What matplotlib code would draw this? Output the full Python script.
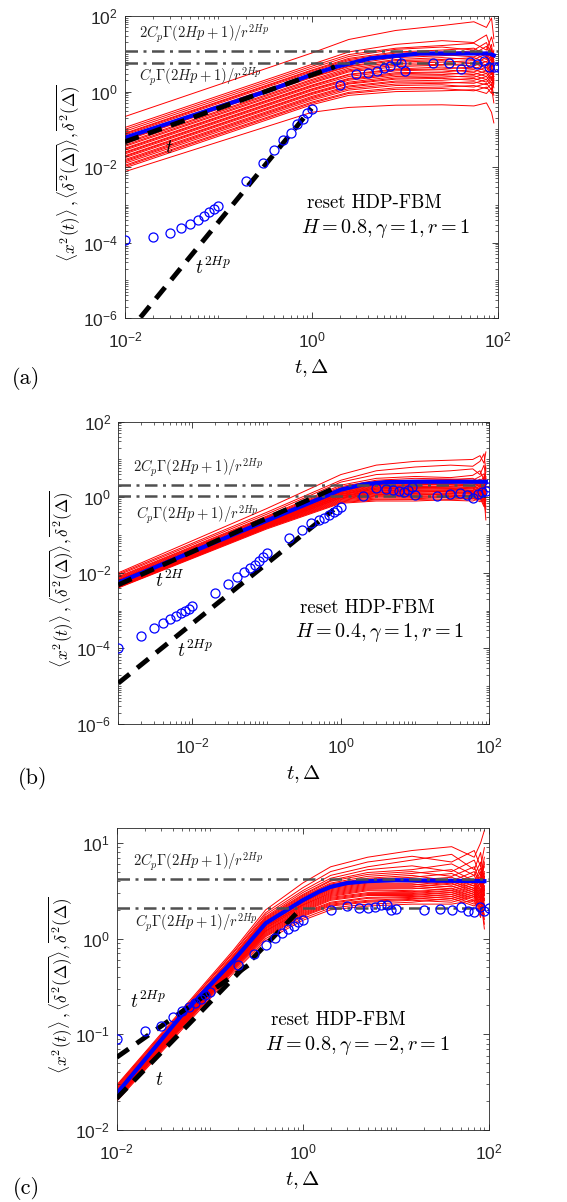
import numpy as np
import matplotlib
matplotlib.use('Agg')
import matplotlib.pyplot as plt
from matplotlib import ticker

plt.rcParams['font.family'] = 'Liberation Sans'
# tick labels use a sans mathtext, the annotations ask for 'cm' explicitly
plt.rcParams['mathtext.fontset'] = 'custom'
plt.rcParams['mathtext.rm'] = 'Liberation Sans'
plt.rcParams['mathtext.it'] = 'Liberation Sans:italic'
plt.rcParams['mathtext.bf'] = 'Liberation Sans:bold'
plt.rcParams['axes.linewidth'] = 0.6

# ---------------- data (log10 values) ----------------
# circle markers: time-averaged MSD of the ensemble
t_circ_a = [0.01, 0.02, 0.03, 0.04, 0.05, 0.06, 0.07, 0.08, 0.09, 0.1,
            0.2, 0.3, 0.4, 0.5, 0.6, 0.7, 0.8, 0.9, 1.0,
            2, 3, 4, 5, 6, 7, 8, 9, 10,
            20, 30, 40, 50, 60, 70, 80, 90, 100]
circ_a = [-3.94, -3.86, -3.74, -3.62, -3.50, -3.39, -3.29, -3.19, -3.11, -3.03,
          -2.37, -1.90, -1.56, -1.29, -1.09, -0.86, -0.72, -0.58, -0.45,
          0.18, 0.47, 0.50, 0.55, 0.63, 0.69, 0.84, 0.77, 0.55,
          0.77, 0.77, 0.60, 0.79, 0.73, 0.81, 0.66, 0.66, 0.66]

t_circ_b = [0.001, 0.002, 0.003, 0.004, 0.005, 0.006, 0.007, 0.008, 0.009, 0.01,
            0.02, 0.03, 0.04, 0.05, 0.06, 0.07, 0.08, 0.09, 0.1,
            0.2, 0.3, 0.4, 0.5, 0.6, 0.7, 0.8, 0.9, 1.0,
            2, 3, 4, 5, 6, 7, 8, 9, 10,
            20, 30, 40, 50, 60, 70, 80, 90, 100]
circ_b = [-4.00, -3.66, -3.45, -3.32, -3.22, -3.14, -3.07, -3.01, -2.95, -2.87,
          -2.54, -2.30, -2.10, -1.98, -1.88, -1.80, -1.70, -1.57, -1.48,
          -1.09, -0.87, -0.69, -0.60, -0.56, -0.47, -0.38, -0.34, -0.25,
          0.04, 0.24, 0.21, 0.19, 0.17, 0.13, 0.19, 0.26, 0.06,
          0.04, 0.09, 0.11, 0.06, -0.03, 0.09, 0.15, 0.17, 0.26]

t_circ_c = t_circ_a
circ_c = [-1.05, -0.97, -0.91, -0.82, -0.76, -0.71, -0.67, -0.63, -0.59, -0.56,
          -0.28, -0.16, -0.07, 0.01, 0.06, 0.10, 0.13, 0.17, 0.19,
          0.30, 0.34, 0.32, 0.32, 0.33, 0.35, 0.35, 0.30, 0.31,
          0.30, 0.31, 0.30, 0.33, 0.29, 0.28, 0.33, 0.29, 0.32]

# blue curves: ensemble MSD
t_msd_a = [0.01, 0.36, 1, 1.86, 4.3, 14.5, 80, 90]
msd_a = [-1.22, 0.04, 0.45, 0.66, 0.88, 1.01, 1.01, 0.96]
t_msd_b = [0.001, 0.1, 0.5, 1, 2, 4, 10, 90]
msd_b = [-2.26, -0.62, -0.05, 0.20, 0.34, 0.40, 0.41, 0.41]
t_msd_c = [0.01, 0.05, 0.18, 0.4, 1, 1.5, 2, 3, 5, 10, 90]
msd_c = [-1.62, -0.80, -0.23, 0.16, 0.40, 0.49, 0.54, 0.58, 0.60, 0.61, 0.60]

# red curves: single-trajectory TAMSDs, one row per trajectory
t_red_a = [0.01, 1, 2.5, 8, 25, 55, 75, 85, 90]
red_a = [
    [-0.66, 1.02, 1.38, 1.62, 1.75, 1.85, 1.70, 1.95, 1.40],
    [-0.95, 0.72, 1.05, 1.25, 1.35, 1.30, 1.50, 1.10, 0.90],
    [-1.00, 0.67, 0.98, 1.15, 1.22, 1.28, 1.10, 1.45, 1.20],
    [-1.05, 0.62, 0.93, 1.12, 1.18, 1.10, 1.30, 0.95, 1.05],
    [-1.10, 0.57, 0.88, 1.05, 1.10, 1.15, 0.95, 1.25, 0.70],
    [-1.12, 0.55, 0.85, 1.02, 1.05, 1.00, 1.20, 0.85, 1.10],
    [-1.15, 0.52, 0.82, 0.98, 1.02, 1.08, 0.92, 1.15, 0.60],
    [-1.20, 0.47, 0.78, 0.95, 0.98, 0.92, 1.05, 0.80, 0.95],
    [-1.25, 0.42, 0.72, 0.90, 0.95, 1.00, 0.85, 1.10, 0.80],
    [-1.28, 0.39, 0.68, 0.85, 0.90, 0.85, 1.00, 0.70, 1.00],
    [-1.30, 0.37, 0.66, 0.82, 0.85, 0.90, 0.78, 0.95, 0.50],
    [-1.35, 0.32, 0.62, 0.78, 0.82, 0.75, 0.90, 0.65, 0.85],
    [-1.38, 0.29, 0.58, 0.74, 0.78, 0.82, 0.70, 0.88, 0.75],
    [-1.42, 0.25, 0.55, 0.70, 0.72, 0.68, 0.80, 0.60, 0.40],
    [-1.45, 0.22, 0.52, 0.66, 0.70, 0.75, 0.62, 0.78, 0.90],
    [-1.50, 0.17, 0.46, 0.60, 0.65, 0.60, 0.72, 0.50, 0.65],
    [-1.52, 0.15, 0.44, 0.58, 0.60, 0.65, 0.55, 0.70, 0.30],
    [-1.55, 0.12, 0.40, 0.55, 0.58, 0.52, 0.65, 0.45, 0.60],
    [-1.60, 0.07, 0.35, 0.50, 0.52, 0.58, 0.48, 0.62, 0.80],
    [-1.62, 0.05, 0.33, 0.47, 0.50, 0.45, 0.55, 0.35, 0.45],
    [-1.65, 0.02, 0.30, 0.44, 0.45, 0.50, 0.40, 0.55, 0.20],
    [-1.70, -0.03, 0.25, 0.40, 0.42, 0.38, 0.48, 0.30, 0.55],
    [-1.72, -0.05, 0.22, 0.36, 0.38, 0.42, 0.32, 0.48, 0.65],
    [-1.75, -0.08, 0.20, 0.33, 0.35, 0.30, 0.40, 0.22, 0.35],
    [-1.80, -0.13, 0.15, 0.28, 0.30, 0.35, 0.25, 0.40, 0.10],
    [-1.83, -0.16, 0.12, 0.25, 0.25, 0.22, 0.32, 0.15, 0.40],
    [-1.86, -0.19, 0.08, 0.20, 0.22, 0.26, 0.18, 0.30, 0.50],
    [-1.90, -0.23, 0.04, 0.16, 0.18, 0.12, 0.22, 0.05, 0.25],
    [-1.95, -0.28, -0.02, 0.10, 0.12, 0.16, 0.08, 0.20, -0.10],
    [-1.98, -0.31, -0.05, 0.06, 0.08, 0.02, 0.12, -0.05, 0.30],
    [-2.02, -0.35, -0.10, 0.00, 0.02, 0.05, -0.05, 0.10, -0.30],
    [-2.12, -0.55, -0.42, -0.36, -0.35, -0.38, -0.30, -0.55, -0.83],
]

t_red_b = [0.001, 0.1, 1, 3, 10, 30, 60, 75, 85, 90]
red_b = [
    [-2.00, -0.30, 0.60, 0.85, 0.95, 0.98, 1.00, 1.10, 0.90, 1.20],
    [-2.03, -0.40, 0.45, 0.70, 0.80, 0.85, 0.82, 0.95, 1.15, 0.70],
    [-2.06, -0.45, 0.40, 0.60, 0.65, 0.70, 0.75, 0.60, 0.85, 0.50],
    [-2.10, -0.50, 0.32, 0.50, 0.55, 0.52, 0.58, 0.70, 0.45, 0.80],
    [-2.12, -0.52, 0.28, 0.45, 0.50, 0.48, 0.45, 0.55, 0.62, 0.35],
    [-2.14, -0.54, 0.25, 0.42, 0.45, 0.47, 0.50, 0.40, 0.55, 0.65],
    [-2.16, -0.56, 0.23, 0.40, 0.42, 0.40, 0.38, 0.48, 0.30, 0.50],
    [-2.18, -0.58, 0.21, 0.37, 0.40, 0.42, 0.45, 0.35, 0.50, 0.20],
    [-2.19, -0.60, 0.19, 0.35, 0.38, 0.36, 0.32, 0.42, 0.38, 0.55],
    [-2.20, -0.61, 0.17, 0.33, 0.36, 0.38, 0.40, 0.30, 0.45, 0.25],
    [-2.21, -0.62, 0.16, 0.31, 0.34, 0.33, 0.30, 0.38, 0.25, 0.45],
    [-2.22, -0.63, 0.14, 0.29, 0.32, 0.34, 0.36, 0.28, 0.40, 0.10],
    [-2.23, -0.64, 0.13, 0.27, 0.30, 0.28, 0.25, 0.35, 0.20, 0.38],
    [-2.24, -0.65, 0.12, 0.25, 0.28, 0.30, 0.32, 0.22, 0.35, 0.30],
    [-2.25, -0.66, 0.10, 0.24, 0.26, 0.25, 0.22, 0.30, 0.15, 0.42],
    [-2.26, -0.67, 0.09, 0.22, 0.25, 0.27, 0.28, 0.20, 0.32, 0.05],
    [-2.27, -0.68, 0.08, 0.21, 0.23, 0.22, 0.18, 0.26, 0.10, 0.28],
    [-2.28, -0.69, 0.07, 0.19, 0.21, 0.23, 0.25, 0.15, 0.28, 0.35],
    [-2.29, -0.70, 0.05, 0.17, 0.19, 0.18, 0.15, 0.22, 0.05, 0.15],
    [-2.30, -0.71, 0.04, 0.16, 0.18, 0.20, 0.22, 0.12, 0.25, -0.10],
    [-2.31, -0.72, 0.03, 0.14, 0.16, 0.15, 0.12, 0.18, 0.00, 0.22],
    [-2.32, -0.73, 0.02, 0.12, 0.14, 0.16, 0.18, 0.08, 0.20, 0.12],
    [-2.33, -0.74, 0.00, 0.11, 0.12, 0.10, 0.08, 0.15, -0.05, 0.30],
    [-2.34, -0.75, -0.01, 0.09, 0.10, 0.12, 0.14, 0.05, 0.18, -0.25],
    [-2.35, -0.76, -0.02, 0.07, 0.08, 0.06, 0.04, 0.10, -0.10, 0.08],
    [-2.36, -0.77, -0.04, 0.05, 0.06, 0.08, 0.10, 0.00, 0.12, 0.18],
    [-2.36, -0.78, -0.06, 0.03, 0.04, 0.02, 0.00, 0.06, -0.15, -0.40],
    [-2.37, -0.79, -0.08, 0.01, 0.02, 0.04, 0.06, -0.04, 0.05, 0.10],
    [-2.38, -0.80, -0.10, -0.02, -0.01, -0.02, -0.05, 0.02, -0.20, -0.05],
    [-2.38, -0.81, -0.12, -0.05, -0.04, 0.00, 0.02, -0.08, 0.00, -0.60],
    [-2.39, -0.82, -0.14, -0.07, -0.06, -0.08, -0.10, -0.02, -0.25, 0.00],
    [-2.40, -0.84, -0.16, -0.10, -0.10, -0.06, -0.03, -0.12, -0.05, -0.30],
]

t_red_c = [0.01, 0.18, 0.4, 1, 2, 5, 15, 40, 70, 82, 90]
red_c = [
    [-1.53, -0.12, 0.30, 0.58, 0.75, 0.85, 0.92, 0.96, 0.85, 1.00, 1.13],
    [-1.54, -0.14, 0.27, 0.53, 0.70, 0.80, 0.86, 0.80, 0.92, 0.75, 0.95],
    [-1.55, -0.15, 0.25, 0.50, 0.66, 0.75, 0.82, 0.88, 0.72, 0.90, 0.60],
    [-1.56, -0.17, 0.23, 0.48, 0.63, 0.72, 0.76, 0.70, 0.82, 0.65, 0.85],
    [-1.57, -0.18, 0.22, 0.46, 0.61, 0.69, 0.72, 0.78, 0.66, 0.80, 0.50],
    [-1.58, -0.19, 0.21, 0.45, 0.60, 0.67, 0.70, 0.65, 0.75, 0.58, 0.78],
    [-1.59, -0.20, 0.20, 0.44, 0.58, 0.65, 0.68, 0.72, 0.60, 0.74, 0.45],
    [-1.60, -0.21, 0.19, 0.43, 0.57, 0.63, 0.66, 0.60, 0.70, 0.55, 0.70],
    [-1.60, -0.22, 0.18, 0.42, 0.56, 0.62, 0.64, 0.68, 0.58, 0.70, 0.40],
    [-1.61, -0.22, 0.17, 0.41, 0.55, 0.61, 0.62, 0.58, 0.66, 0.50, 0.65],
    [-1.61, -0.23, 0.17, 0.40, 0.54, 0.60, 0.61, 0.64, 0.55, 0.66, 0.75],
    [-1.62, -0.23, 0.16, 0.39, 0.53, 0.59, 0.60, 0.56, 0.62, 0.48, 0.55],
    [-1.62, -0.24, 0.15, 0.38, 0.52, 0.58, 0.58, 0.62, 0.52, 0.64, 0.35],
    [-1.63, -0.24, 0.15, 0.38, 0.51, 0.57, 0.57, 0.54, 0.60, 0.45, 0.62],
    [-1.63, -0.25, 0.14, 0.37, 0.50, 0.56, 0.56, 0.60, 0.50, 0.60, 0.80],
    [-1.63, -0.25, 0.13, 0.36, 0.49, 0.55, 0.55, 0.52, 0.58, 0.42, 0.50],
    [-1.64, -0.26, 0.13, 0.35, 0.48, 0.54, 0.54, 0.58, 0.48, 0.58, 0.30],
    [-1.64, -0.26, 0.12, 0.35, 0.47, 0.53, 0.53, 0.50, 0.56, 0.40, 0.68],
    [-1.64, -0.27, 0.11, 0.34, 0.46, 0.52, 0.52, 0.55, 0.46, 0.55, 0.45],
    [-1.65, -0.27, 0.11, 0.33, 0.45, 0.51, 0.50, 0.48, 0.54, 0.38, 0.25],
    [-1.65, -0.28, 0.10, 0.32, 0.44, 0.50, 0.49, 0.52, 0.44, 0.52, 0.58],
    [-1.65, -0.28, 0.09, 0.31, 0.43, 0.48, 0.48, 0.46, 0.52, 0.35, 0.40],
    [-1.66, -0.29, 0.08, 0.30, 0.42, 0.47, 0.47, 0.50, 0.42, 0.50, 0.20],
    [-1.66, -0.29, 0.08, 0.29, 0.41, 0.46, 0.46, 0.44, 0.50, 0.32, 0.52],
    [-1.66, -0.30, 0.07, 0.28, 0.40, 0.45, 0.45, 0.48, 0.40, 0.48, 0.65],
    [-1.67, -0.30, 0.06, 0.27, 0.38, 0.43, 0.44, 0.42, 0.48, 0.30, 0.36],
    [-1.67, -0.31, 0.05, 0.26, 0.37, 0.42, 0.43, 0.46, 0.38, 0.45, 0.15],
    [-1.67, -0.31, 0.04, 0.25, 0.36, 0.40, 0.42, 0.40, 0.46, 0.28, 0.48],
    [-1.68, -0.32, 0.03, 0.24, 0.35, 0.39, 0.41, 0.44, 0.36, 0.42, 0.10],
    [-1.68, -0.33, 0.02, 0.23, 0.34, 0.38, 0.40, 0.38, 0.44, 0.25, 0.42],
    [-1.69, -0.34, 0.00, 0.21, 0.32, 0.36, 0.38, 0.42, 0.34, 0.40, 0.30],
    [-1.70, -0.36, -0.02, 0.19, 0.30, 0.34, 0.36, 0.36, 0.40, 0.22, 0.55],
]

# black dashed guide lines: (t_start, t_end), (value_start, value_end)
guide1_a = ([0.01, 1.78], [0.047, 4.57])       # t
guide2_a = ([0.01, 1.0], [3.3e-7, 0.36])       # t^{2Hp}
guide1_b = ([0.001, 0.9], [4.8e-3, 1.9])       # t^{2H}
guide2_b = ([0.001, 0.8], [1.2e-5, 0.47])      # t^{2Hp}
guide1_c = ([0.01, 0.85], [0.0214, 1.82])      # t
guide2_c = ([0.01, 0.3], [0.0575, 0.58])       # t^{2Hp}

# plateau levels 2C_p.../r^{2Hp} and C_p.../r^{2Hp}
plateau_a = [11.6, 5.8]
plateau_b = [2.1, 1.05]
plateau_c = [4.2, 2.1]

params_a = r'$H=0.8,\gamma=1,r=1$'
params_b = r'$H=0.4,\gamma=1,r=1$'
params_c = r'$H=0.8,\gamma=-2,r=1$'

ylab = r'$\langle x^2(t)\rangle\,,\langle\overline{\delta^2(\Delta)}\rangle,\overline{\delta^2(\Delta)}$'
txt_2c = r'$2C_p\Gamma(2Hp+1)/r^{2Hp}$'
txt_1c = r'$C_p\Gamma(2Hp+1)/r^{2Hp}$'


def draw_panel(ax, t_red, red, t_msd, msd, t_circ, circ, g1, g2, plateau,
               xlim, ylim, xticks, yticks):
    for row in red:
        ax.plot(t_red, 10 ** np.array(row), color='red', lw=0.7, zorder=1)
    ax.plot(t_msd, 10 ** np.array(msd), color='blue', lw=3, zorder=2)
    for lev in plateau:
        ax.axhline(lev, color='#505050', lw=1.8, dashes=(5, 2.2, 1.2, 2.2), zorder=3)
    for g in (g1, g2):
        ax.plot(g[0], g[1], color='black', lw=3.5, dashes=(3.0, 2.0), zorder=4)
    ax.plot(t_circ, 10 ** np.array(circ), 'o', mfc='none', mec='blue',
            ms=6.5, mew=0.9, zorder=5)

    ax.set_xscale('log')
    ax.set_yscale('log')
    ax.set_xlim(xlim)
    ax.set_ylim(ylim)
    ax.xaxis.set_major_locator(ticker.FixedLocator(xticks))
    ax.yaxis.set_major_locator(ticker.FixedLocator(yticks))
    ax.xaxis.set_minor_locator(ticker.LogLocator(base=10, subs=np.arange(1, 10), numticks=100))
    ax.yaxis.set_minor_locator(ticker.LogLocator(base=10, subs=np.arange(1, 10), numticks=100))
    ax.xaxis.set_minor_formatter(ticker.NullFormatter())
    ax.yaxis.set_minor_formatter(ticker.NullFormatter())
    ax.tick_params(which='both', direction='in', top=True, right=True,
                   color='#262626', labelcolor='#262626', labelsize=12.5)
    ax.tick_params(which='major', length=4, width=0.6)
    ax.tick_params(which='minor', length=2, width=0.5)
    ax.tick_params(axis='x', which='major', pad=9)
    ax.tick_params(axis='y', which='major', pad=5)
    for s in ax.spines.values():
        s.set_color('#262626')

    ax.set_xlabel(r'$t,\Delta$', fontsize=15, va='center', math_fontfamily='cm')
    ax.xaxis.set_label_coords(0.5, -0.165)
    ax.set_ylabel(ylab, fontsize=12.3, va='center', math_fontfamily='cm')
    ax.yaxis.set_label_coords(-0.153, 0.48)


def annotate(ax, x, y, s, size, **kw):
    ax.text(x, y, s, transform=ax.transAxes, fontsize=size, va='center',
            math_fontfamily='cm', **kw)


fig = plt.figure(figsize=(5.67, 12.02), dpi=100)
ax_a = fig.add_axes([0.2205, 0.7354, 0.658, 0.2512])
ax_b = fig.add_axes([0.2086, 0.3977, 0.6543, 0.2515])
ax_c = fig.add_axes([0.2058, 0.0599, 0.656, 0.2515])

draw_panel(ax_a, t_red_a, red_a, t_msd_a, msd_a, t_circ_a, circ_a,
           guide1_a, guide2_a, plateau_a, (1e-2, 1e2), (1e-6, 1e2),
           [1e-2, 1, 1e2], [1e-6, 1e-4, 1e-2, 1, 1e2])
draw_panel(ax_b, t_red_b, red_b, t_msd_b, msd_b, t_circ_b, circ_b,
           guide1_b, guide2_b, plateau_b, (1e-3, 1e2), (1e-6, 1e2),
           [1e-2, 1, 1e2], [1e-6, 1e-4, 1e-2, 1, 1e2])
draw_panel(ax_c, t_red_c, red_c, t_msd_c, msd_c, t_circ_c, circ_c,
           guide1_c, guide2_c, plateau_c, (1e-2, 1e2), (1e-2, 14.4),
           [1e-2, 1, 1e2], [1e-2, 1e-1, 1, 1e1])

tc = '#222222'
annotate(ax_a, 0.038, 0.94, txt_2c, 10.5, color=tc)
annotate(ax_a, 0.038, 0.80, txt_1c, 10.5, color=tc)
annotate(ax_a, 0.107, 0.563, r'$t$', 14)
annotate(ax_a, 0.188, 0.169, r'$t^{2Hp}$', 14)
annotate(ax_a, 0.488, 0.381, 'reset HDP-FBM', 13.5, fontfamily='cmr10')
annotate(ax_a, 0.472, 0.298, params_a, 14.5)

annotate(ax_b, 0.04, 0.847, txt_2c, 10.5, color=tc)
annotate(ax_b, 0.048, 0.691, txt_1c, 10.5, color=tc)
annotate(ax_b, 0.099, 0.476, r'$t^{2H}$', 14)
annotate(ax_b, 0.158, 0.245, r'$t^{2Hp}$', 14)
annotate(ax_b, 0.49, 0.384, 'reset HDP-FBM', 13.5, fontfamily='cmr10')
annotate(ax_b, 0.476, 0.304, params_b, 14.5)

annotate(ax_c, 0.044, 0.887, txt_2c, 10.5, color=tc)
annotate(ax_c, 0.049, 0.685, txt_1c, 10.5, color=tc)
annotate(ax_c, 0.036, 0.424, r'$t^{2Hp}$', 14)
annotate(ax_c, 0.103, 0.165, r'$t$', 14)
annotate(ax_c, 0.415, 0.364, 'reset HDP-FBM', 13.5, fontfamily='cmr10')
annotate(ax_c, 0.399, 0.281, params_c, 14.5)

fig.text(0.021, 0.6855, '(a)', fontsize=16, va='center', fontfamily='cmr10')
fig.text(0.032, 0.3527, '(b)', fontsize=16, va='center', fontfamily='cmr10')
fig.text(0.023, 0.0116, '(c)', fontsize=16, va='center', fontfamily='cmr10')

fig.savefig('out.png', dpi=100)
